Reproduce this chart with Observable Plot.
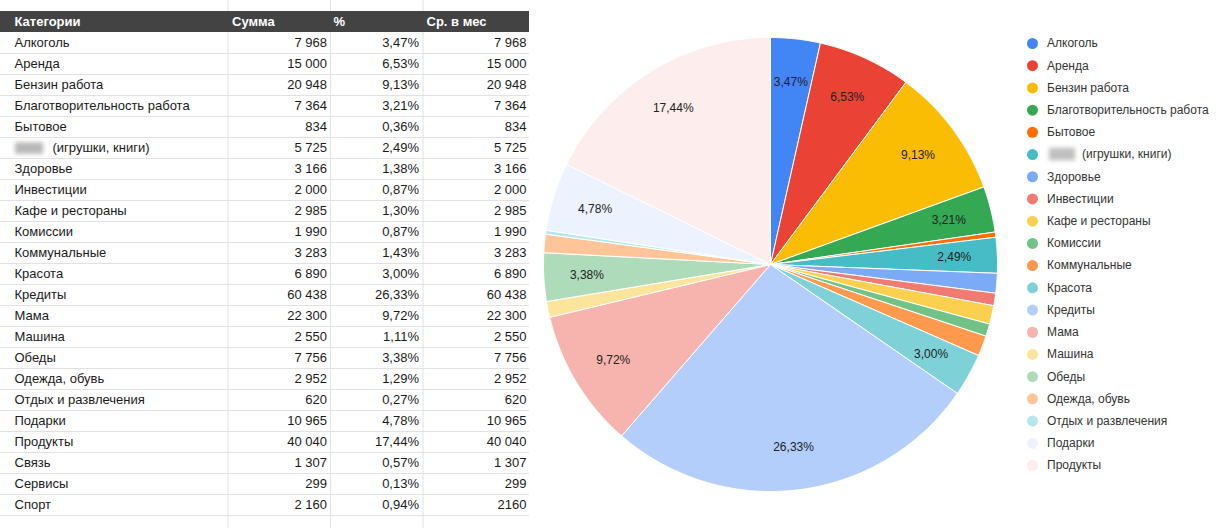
<!DOCTYPE html>
<html>
<head>
<meta charset="utf-8">
<script src="https://cdn.jsdelivr.net/npm/d3@7"></script>
<script src="https://cdn.jsdelivr.net/npm/@observablehq/plot@0.6"></script>
<style>
html, body { margin: 0; padding: 0; background: #ffffff; }
#wrap { display: flex; width: 1224px; height: 528px; overflow: hidden; }
#wrap svg { display: block; flex: none; max-width: none; }
</style>
</head>
<body>
<div id="wrap"></div>
<script>
// ---------- DATA ----------
const headers = ["Категории", "Сумма", "%", "Ср. в мес"];
const categories = [
  "Алкоголь", "Аренда", "Бензин работа", "Благотворительность работа", "Бытовое",
  "(игрушки, книги)", "Здоровье", "Инвестиции", "Кафе и рестораны", "Комиссии",
  "Коммунальные", "Красота", "Кредиты", "Мама", "Машина", "Обеды", "Одежда, обувь",
  "Отдых и развлечения", "Подарки", "Продукты", "Связь", "Сервисы", "Спорт"
];
const sums = [7968, 15000, 20948, 7364, 834, 5725, 3166, 2000, 2985, 1990, 3283, 6890,
  60438, 22300, 2550, 7756, 2952, 620, 10965, 40040, 1307, 299, 2160];
const percents = [3.47, 6.53, 9.13, 3.21, 0.36, 2.49, 1.38, 0.87, 1.30, 0.87, 1.43, 3.00,
  26.33, 9.72, 1.11, 3.38, 1.29, 0.27, 4.78, 17.44, 0.57, 0.13, 0.94];
const monthly = [7968, 15000, 20948, 7364, 834, 5725, 3166, 2000, 2985, 1990, 3283, 6890,
  60438, 22300, 2550, 7756, 2952, 620, 10965, 40040, 1307, 299, "2160"];
const maskedIndex = 5;      // name partly hidden (blurred) in the source
const pieCount = 20;        // the pie and legend use the first 20 categories
const palette = ["#4285F4", "#EA4335", "#FBBC04", "#34A853", "#FF6D01", "#46BDC6", "#7BAAF7",
  "#F07B72", "#FCD04F", "#71C287", "#FF994D", "#7ED1D7", "#B3CEFB", "#F7B4AE", "#FDE49B",
  "#AEDCBA", "#FFC599", "#B5E8EC", "#ECF3FE", "#FDEDEC"];
const labelMin = 2;         // slices below this percent get no label

// ---------- FORMAT ----------
const loc = d3.formatLocale({decimal: ",", thousands: " ", grouping: [3], currency: ["", ""]});
const fmtInt = v => typeof v === "string" ? v : loc.format(",d")(v);
const fmtPct = v => loc.format(".2f")(v) + "%";

const FONT = "'Liberation Sans', Arial, sans-serif";
const wrap = document.getElementById("wrap");

function addBlur(svg, id) {
  const ns = "http://www.w3.org/2000/svg";
  const defs = document.createElementNS(ns, "defs");
  const filter = document.createElementNS(ns, "filter");
  filter.setAttribute("id", id);
  filter.setAttribute("x", "-50%"); filter.setAttribute("y", "-50%");
  filter.setAttribute("width", "200%"); filter.setAttribute("height", "200%");
  const blur = document.createElementNS(ns, "feGaussianBlur");
  blur.setAttribute("stdDeviation", "2.2");
  filter.appendChild(blur); defs.appendChild(filter);
  svg.insertBefore(defs, svg.firstChild);
  svg.querySelectorAll('g[aria-description="masked"]').forEach(g => g.setAttribute("filter", `url(#${id})`));
}

// ---------- TABLE ----------
const T = {width: 540, height: 528, top: 11, rowH: 21, rows: 25,
  edges: [227.5, 330, 422.5], right: 529, headerX: [14, 231.5, 333, 426],
  nameX: 14, valueRight: [326.5, 418.5, 526], maskShift: 38, mask: [15, 43]};
const rows = categories.map((name, i) => ({i, r: i + 1, name, sum: sums[i], pct: percents[i], avg: monthly[i]}));

const table = Plot.plot({
  width: T.width, height: T.height,
  marginTop: 0, marginRight: 0, marginBottom: 0, marginLeft: 0,
  style: {fontFamily: FONT, background: "transparent"},
  x: {domain: [0, T.width], range: [0, T.width], axis: null},
  y: {domain: [0, T.rows], range: [T.top, T.top + T.rows * T.rowH], axis: null},
  marks: [
    Plot.ruleY(d3.range(2, T.rows + 1), {x1: 0, x2: T.right, stroke: "#e2e2e2", strokeWidth: 1}),
    Plot.ruleX(T.edges, {stroke: "#e2e2e2", strokeWidth: 1}),
    Plot.rect([0], {x1: 0, x2: T.right, y1: 0, y2: 1, fill: "#434343"}),
    Plot.text(headers, {x: (d, i) => T.headerX[i], y: 0.5, text: d => d, textAnchor: "start",
      fill: "#ffffff", fontWeight: "bold", fontSize: 13}),
    Plot.rect([rows[maskedIndex]], {x1: T.mask[0], x2: T.mask[1], y1: d => d.r + 0.25, y2: d => d.r + 0.8,
      fill: "#b8b8b8", ariaDescription: "masked"}),
    Plot.text(rows, {x: d => T.nameX + (d.i === maskedIndex ? T.maskShift : 0), y: d => d.r + 0.5,
      text: "name", textAnchor: "start", fill: "#1a1a1a", fontSize: 13}),
    Plot.text(rows, {x: () => T.valueRight[0], y: d => d.r + 0.5, text: d => fmtInt(d.sum),
      textAnchor: "end", fill: "#1a1a1a", fontSize: 13}),
    Plot.text(rows, {x: () => T.valueRight[1], y: d => d.r + 0.5, text: d => fmtPct(d.pct),
      textAnchor: "end", fill: "#1a1a1a", fontSize: 13}),
    Plot.text(rows, {x: () => T.valueRight[2], y: d => d.r + 0.5, text: d => fmtInt(d.avg),
      textAnchor: "end", fill: "#1a1a1a", fontSize: 13})
  ]
});
addBlur(table, "blurT");
wrap.appendChild(table);

// ---------- PIE ----------
const P = {width: 470, height: 528, cx: 230, cy: 264, r: 227, labelR: 0.81, step: Math.PI / 360};
const pieCats = categories.slice(0, pieCount);
const arcs = d3.pie().sort(null).value(d => d)(sums.slice(0, pieCount));
const piePts = [];
arcs.forEach((a, i) => {
  const name = pieCats[i];
  piePts.push({name, x: 0, y: 0});
  const n = Math.max(2, Math.ceil((a.endAngle - a.startAngle) / P.step));
  for (let k = 0; k <= n; k++) {
    const t = a.startAngle + (a.endAngle - a.startAngle) * k / n;
    piePts.push({name, x: Math.sin(t), y: Math.cos(t)});
  }
  piePts.push({name, x: 0, y: 0});
});
const pieLabels = arcs.map((a, i) => {
  const m = (a.startAngle + a.endAngle) / 2;
  return {pct: percents[i], x: P.labelR * Math.sin(m), y: P.labelR * Math.cos(m)};
}).filter(d => d.pct >= labelMin);

const pie = Plot.plot({
  width: P.width, height: P.height,
  marginTop: 0, marginRight: 0, marginBottom: 0, marginLeft: 0,
  style: {fontFamily: FONT, background: "transparent"},
  x: {domain: [-1, 1], range: [P.cx - P.r, P.cx + P.r], axis: null},
  y: {domain: [-1, 1], range: [P.cy + P.r, P.cy - P.r], axis: null},
  color: {type: "ordinal", domain: pieCats, range: palette},
  marks: [
    Plot.line(piePts, {x: "x", y: "y", z: "name", fill: "name", stroke: "#ffffff",
      strokeWidth: 1, strokeLinejoin: "round", curve: "linear"}),
    Plot.text(pieLabels, {x: "x", y: "y", text: d => fmtPct(d.pct), fill: "#222222", fontSize: 12})
  ]
});
wrap.appendChild(pie);

// ---------- LEGEND ----------
const L = {width: 214, height: 528, first: 43, last: 465, dotX: 22, textX: 36.5, dotR: 5.5,
  maskShift: 35, mask: [39, 65]};
const legendRows = pieCats.map((name, i) => ({i, name}));
const legend = Plot.plot({
  width: L.width, height: L.height,
  marginTop: 0, marginRight: 0, marginBottom: 0, marginLeft: 0,
  style: {fontFamily: FONT, background: "transparent"},
  x: {domain: [0, L.width], range: [0, L.width], axis: null},
  y: {domain: [0, pieCount - 1], range: [L.first, L.last], axis: null},
  color: {type: "ordinal", domain: pieCats, range: palette},
  marks: [
    Plot.dot(legendRows, {x: () => L.dotX, y: "i", r: L.dotR, fill: "name", stroke: null}),
    Plot.rect([legendRows[maskedIndex]], {x1: L.mask[0], x2: L.mask[1], y1: d => d.i - 0.28, y2: d => d.i + 0.28,
      fill: "#c0c0c0", ariaDescription: "masked"}),
    Plot.text(legendRows, {x: d => L.textX + (d.i === maskedIndex ? L.maskShift : 0), y: "i",
      text: "name", textAnchor: "start", fill: "#333333", fontSize: 12})
  ]
});
addBlur(legend, "blurL");
wrap.appendChild(legend);
</script>
</body>
</html>
